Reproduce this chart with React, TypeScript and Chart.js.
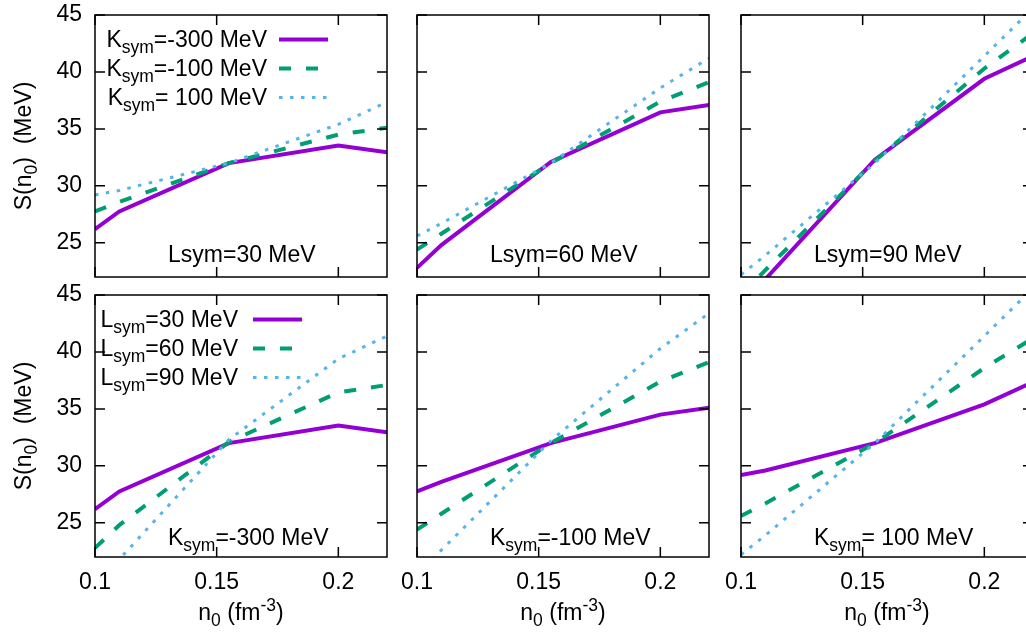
import React, { useEffect, useRef } from 'react';
import { Chart, registerables } from 'chart.js';

Chart.register(...registerables);

// ---------- data ----------
const densities = [0.1, 0.11, 0.155, 0.2, 0.22];
const xTickValues = [0.1, 0.15, 0.2];
const yTickValues = [25, 30, 35, 40, 45];

const S_L30_Km300 = [26.2, 27.75, 32.0, 33.55, 32.95];
const S_L30_Km100 = [27.75, 28.6, 32.0, 34.5, 35.1];
const S_L30_K100 = [29.2, 29.6, 32.0, 35.4, 37.35];
const S_L60_Km300 = [22.8, 24.8, 32.1, 36.45, 37.1];
const S_L60_Km100 = [24.4, 25.8, 32.0, 37.4, 39.1];
const S_L60_K100 = [25.6, 26.7, 32.0, 38.6, 41.2];
const S_L90_Km300 = [19.2, 21.8, 32.3, 39.4, 41.4];
const S_L90_Km100 = [20.4, 22.6, 32.2, 40.3, 43.4];
const S_L90_K100 = [22.2, 23.9, 32.0, 41.4, 45.6];

const lsymValues = ['30', '60', '90'];
const ksymValues = ['-300', '-100', ' 100'];

// ---------- styles / layout ----------
const FONT = '"Liberation Sans", Arial, Helvetica, sans-serif';
const MAIN = 23;
const SMALL = 17.5;
const lineStyles = [
  { color: '#9400D3', width: 4, dash: [] as number[], order: 3 },
  { color: '#009E73', width: 4, dash: [12, 15], order: 2 },
  { color: '#56B4E9', width: 3, dash: [3.5, 7.5], order: 1 },
];
const COL_LEFT = [95, 417, 741];
const PLOT_W = 292;
const ROW_TOP = [15, 295];
const PLOT_H = 262;
const PAD = 30;
const WIN_W = 1026;
const WIN_H = 632;

type Part = { t: string; s?: 'sub' | 'sup' };

function drawRich(ctx: CanvasRenderingContext2D, parts: Part[], x: number, y: number, align: 'left' | 'right' | 'center') {
  ctx.save();
  ctx.fillStyle = '#000';
  ctx.textBaseline = 'alphabetic';
  ctx.textAlign = 'left';
  const widths = parts.map((p) => {
    ctx.font = `${p.s ? SMALL : MAIN}px ${FONT}`;
    return ctx.measureText(p.t).width;
  });
  const total = widths.reduce((a, b) => a + b, 0);
  let cx = align === 'left' ? x : align === 'right' ? x - total : x - total / 2;
  parts.forEach((p, i) => {
    ctx.font = `${p.s ? SMALL : MAIN}px ${FONT}`;
    const dy = p.s === 'sub' ? 6 : p.s === 'sup' ? -9 : 0;
    ctx.fillText(p.t, cx, y + dy);
    cx += widths[i];
  });
  ctx.restore();
}

const grid = [
  [S_L30_Km300, S_L30_Km100, S_L30_K100],
  [S_L60_Km300, S_L60_Km100, S_L60_K100],
  [S_L90_Km300, S_L90_Km100, S_L90_K100],
];

const kPart = (v: string): Part[] => [{ t: 'K' }, { t: 'sym', s: 'sub' }, { t: `=${v} MeV` }];
const lPart = (v: string): Part[] => [{ t: 'L' }, { t: 'sym', s: 'sub' }, { t: `=${v} MeV` }];

interface PanelCfg {
  row: number;
  col: number;
  series: number[][];
  note: Part[];
  legend?: { rows: Part[][]; textRight: number; lineStart: number };
}

const panels: PanelCfg[] = [];
for (let c = 0; c < 3; c++) {
  panels.push({
    row: 0,
    col: c,
    series: grid[c],
    note: [{ t: `Lsym=${lsymValues[c]} MeV` }],
    legend: c === 0 ? { rows: ksymValues.map(kPart), textRight: 172, lineStart: 184 } : undefined,
  });
}
for (let c = 0; c < 3; c++) {
  panels.push({
    row: 1,
    col: c,
    series: [grid[0][c], grid[1][c], grid[2][c]],
    note: kPart(ksymValues[c]),
    legend: c === 0 ? { rows: lsymValues.map(lPart), textRight: 143, lineStart: 158 } : undefined,
  });
}

function geom(p: PanelCfg) {
  const left = p.col === 0 ? 0 : COL_LEFT[p.col] - PAD;
  const top = ROW_TOP[p.row] - PAD;
  const right = COL_LEFT[p.col] + PLOT_W + PAD;
  const bottom = p.row === 1 ? WIN_H : ROW_TOP[p.row] + PLOT_H + PAD;
  return { left, top, width: right - left, height: bottom - top };
}

function makeChart(canvas: HTMLCanvasElement, p: PanelCfg) {
  const yTitle: Part[] = [{ t: 'S(n' }, { t: '0', s: 'sub' }, { t: ')  (MeV)' }];
  const xTitle: Part[] = [{ t: 'n' }, { t: '0', s: 'sub' }, { t: ' (fm' }, { t: '-3', s: 'sup' }, { t: ')' }];
  const showX = p.row === 1;
  const showY = p.col === 0;

  const decor = {
    id: 'decor' + p.row + p.col,
    afterDatasetsDraw(chart: any) {
      const ctx: CanvasRenderingContext2D = chart.ctx;
      const { left, right, top, bottom } = chart.chartArea;
      const xs = chart.scales.x;
      const ys = chart.scales.y;
      ctx.save();
      ctx.strokeStyle = '#000';
      ctx.lineWidth = 1.5;
      ctx.strokeRect(left, top, right - left, bottom - top);
      ctx.beginPath();
      const tl = 10;
      xTickValues.forEach((v) => {
        const px = xs.getPixelForValue(v);
        ctx.moveTo(px, bottom);
        ctx.lineTo(px, bottom - tl);
        ctx.moveTo(px, top);
        ctx.lineTo(px, top + tl);
      });
      yTickValues.forEach((v) => {
        const py = ys.getPixelForValue(v);
        ctx.moveTo(left, py);
        ctx.lineTo(left + tl, py);
        ctx.moveTo(right, py);
        ctx.lineTo(right - tl, py);
      });
      ctx.stroke();
      ctx.restore();

      // annotation
      drawRich(ctx, p.note, left + 73, bottom - (p.row === 0 ? 15 : 12), 'left');

      // legend
      if (p.legend) {
        p.legend.rows.forEach((parts, i) => {
          const cy = top + 24.5 + i * 29;
          drawRich(ctx, parts, left + p.legend!.textRight, cy + 7.5, 'right');
          const st = lineStyles[i];
          ctx.save();
          ctx.strokeStyle = st.color;
          ctx.lineWidth = st.width;
          ctx.setLineDash(st.dash);
          ctx.lineCap = 'butt';
          ctx.beginPath();
          ctx.moveTo(left + p.legend!.lineStart, cy);
          ctx.lineTo(left + p.legend!.lineStart + 49, cy);
          ctx.stroke();
          ctx.restore();
        });
      }

      // axis titles
      if (showY) {
        ctx.save();
        ctx.translate(left - 64, (top + bottom) / 2);
        ctx.rotate(-Math.PI / 2);
        drawRich(ctx, yTitle, 0, 0, 'center');
        ctx.restore();
      }
      if (showX) {
        drawRich(ctx, xTitle, (left + right) / 2, bottom + 63, 'center');
      }
    },
  };

  return new Chart(canvas, {
    type: 'line',
    data: {
      datasets: p.series.map((arr, i) => ({
        data: densities.map((x, k) => ({ x, y: arr[k] })),
        borderColor: lineStyles[i].color,
        borderWidth: lineStyles[i].width,
        borderDash: lineStyles[i].dash,
        borderCapStyle: 'butt',
        pointRadius: 0,
        pointHoverRadius: 0,
        tension: 0,
        fill: false,
        clip: 0,
        order: lineStyles[i].order,
      })),
    },
    options: {
      responsive: false,
      animation: false,
      devicePixelRatio: 1,
      events: [],
      layout: {
        padding: {
          left: showY ? 0 : PAD,
          right: PAD,
          top: PAD,
          bottom: showX ? 0 : PAD,
        },
      },
      plugins: { legend: { display: false }, tooltip: { enabled: false }, title: { display: false } },
      scales: {
        x: {
          type: 'linear',
          min: 0.1,
          max: 0.22,
          display: showX,
          grid: { display: false, drawTicks: false },
          border: { display: false },
          afterBuildTicks: (s: any) => {
            s.ticks = xTickValues.map((v) => ({ value: v }));
          },
          afterFit: (s: any) => {
            if (showX) s.height = WIN_H - (ROW_TOP[1] + PLOT_H);
          },
          ticks: {
            color: '#000',
            padding: 11.5,
            maxRotation: 0,
            autoSkip: false,
            font: { family: FONT, size: MAIN },
            callback: (v: any) => String(v),
          },
        },
        y: {
          type: 'linear',
          min: 22,
          max: 45,
          display: showY,
          grid: { display: false, drawTicks: false },
          border: { display: false },
          afterBuildTicks: (s: any) => {
            s.ticks = yTickValues.map((v) => ({ value: v }));
          },
          afterFit: (s: any) => {
            if (showY) s.width = COL_LEFT[0];
          },
          ticks: {
            color: '#000',
            padding: 13,
            autoSkip: false,
            font: { family: FONT, size: MAIN },
            callback: (v: any) => String(v),
          },
        },
      },
    } as any,
    plugins: [decor],
  } as any);
}

export default function App() {
  const refs = useRef<(HTMLCanvasElement | null)[]>([]);
  useEffect(() => {
    const charts = panels.map((p, i) => makeChart(refs.current[i] as HTMLCanvasElement, p));
    return () => charts.forEach((c) => c.destroy());
  }, []);
  return (
    <div
      style={{
        position: 'fixed',
        left: 0,
        top: 0,
        width: WIN_W,
        height: WIN_H,
        overflow: 'hidden',
        background: '#fff',
      }}
    >
      {panels.map((p, i) => {
        const g = geom(p);
        return (
          <canvas
            key={i}
            ref={(el) => {
              refs.current[i] = el;
            }}
            width={g.width}
            height={g.height}
            style={{ position: 'absolute', left: g.left, top: g.top, width: g.width, height: g.height }}
          />
        );
      })}
    </div>
  );
}
